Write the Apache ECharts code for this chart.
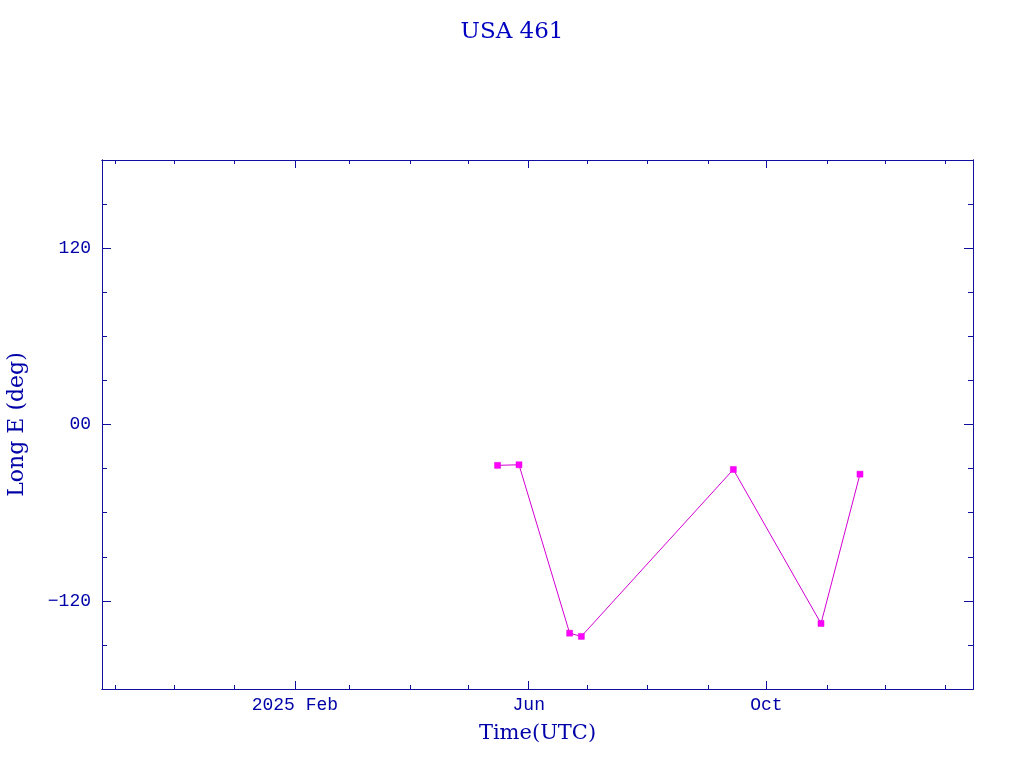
<!DOCTYPE html>
<html><head><meta charset="utf-8">
<script src="https://cdn.jsdelivr.net/npm/echarts@6/dist/echarts.min.js"></script>
<style>html,body{margin:0;padding:0;background:#fff}#c{width:1024px;height:768px}</style>
</head><body><div id="c"></div>
<script>
// Data
const dates = ['2025-05-16','2025-05-27','2025-06-22','2025-06-28','2025-09-14','2025-10-29','2025-11-18'];
const longE = [-27.8, -27.4, -142.0, -144.2, -30.6, -135.4, -33.8];
const xMajorTicks = ['2025-02-01','2025-06-01','2025-10-01'];
const xMajorLabels = ['2025 Feb','Jun','Oct'];
const xMinorTicks = ['2024-11-01','2024-12-01','2025-01-01','2025-02-01','2025-03-01','2025-04-01','2025-05-01','2025-06-01','2025-07-01','2025-08-01','2025-09-01','2025-10-01','2025-11-01','2025-12-01','2026-01-01'];
const yMajorTicks = [-120, 0, 120];
const yMajorLabels = ['\u2212120','00','120'];
const yMinorTicks = [-150,-120,-90,-60,-30,0,30,60,90,120,150];
const xMin = '2024-10-25', xMax = '2026-01-15';
const yMin = -180, yMax = 180;

const ts = s => { const [y,m,d] = s.split('-').map(Number); return Date.UTC(y, m-1, d); };
const AX = '#1010a0';
const TXT = '#0000a8';
const serif = 'DejaVu Serif';
const mono = 'Liberation Mono';

function xAxis(pos, ticks, len, labels) {
  return {
    type: 'value', position: pos, min: ts(xMin), max: ts(xMax),
    axisLine: { show: true, onZero: false, lineStyle: { color: AX, width: 1 } },
    axisTick: { show: true, inside: true, length: len, customValues: ticks.map(ts), lineStyle: { color: AX } },
    axisLabel: labels ? {
      show: true, customValues: xMajorTicks.map(ts), margin: 7,
      color: TXT, fontFamily: mono, fontSize: 18,
      formatter: v => { const i = xMajorTicks.map(ts).indexOf(v); return i >= 0 ? xMajorLabels[i] : ''; }
    } : { show: false },
    splitLine: { show: false },
    name: labels ? 'Time(UTC)' : '', nameLocation: 'middle', nameGap: 34,
    nameTextStyle: { color: TXT, fontFamily: serif, fontSize: 21 }
  };
}
function yAxis(pos, ticks, len, labels) {
  return {
    type: 'value', position: pos, min: yMin, max: yMax,
    axisLine: { show: true, onZero: false, lineStyle: { color: AX, width: 1 } },
    axisTick: { show: true, inside: true, length: len, customValues: ticks, lineStyle: { color: AX } },
    axisLabel: labels ? {
      show: true, customValues: yMajorTicks, margin: 11,
      color: TXT, fontFamily: mono, fontSize: 18,
      formatter: v => { const i = yMajorTicks.indexOf(v); return i >= 0 ? yMajorLabels[i] : ''; }
    } : { show: false },
    splitLine: { show: false },
    name: labels ? 'Long E (deg)' : '', nameLocation: 'middle', nameGap: 74, nameRotate: 90,
    nameTextStyle: { color: TXT, fontFamily: serif, fontSize: 22 }
  };
}

const chart = echarts.init(document.getElementById('c'), null, { renderer: 'canvas' });
chart.setOption({
  animation: false,
  backgroundColor: '#ffffff',
  title: { text: 'USA 461', left: 'center', top: 16,
    textStyle: { color: '#0000c0', fontFamily: serif, fontSize: 23, fontWeight: 'normal' } },
  grid: { left: 102, right: 51, top: 160, bottom: 79, containLabel: false, outerBoundsMode: 'none' },
  xAxis: [
    xAxis('bottom', xMinorTicks, 4, true),
    xAxis('bottom', xMajorTicks, 8, false),
    xAxis('top', xMinorTicks, 4, false),
    xAxis('top', xMajorTicks, 8, false)
  ],
  yAxis: [
    yAxis('left', yMinorTicks, 5, true),
    yAxis('left', yMajorTicks, 9, false),
    yAxis('right', yMinorTicks, 5, false),
    yAxis('right', yMajorTicks, 9, false)
  ],
  series: [{
    type: 'line', xAxisIndex: 0, yAxisIndex: 0,
    data: dates.map((d, i) => [ts(d), longE[i]]),
    symbol: 'rect', symbolSize: 6, showAllSymbol: true,
    lineStyle: { color: '#d400d4', width: 1 },
    itemStyle: { color: '#ff00ff', borderColor: '#e000e0', borderWidth: 0.5 }
  }]
});
</script></body></html>
